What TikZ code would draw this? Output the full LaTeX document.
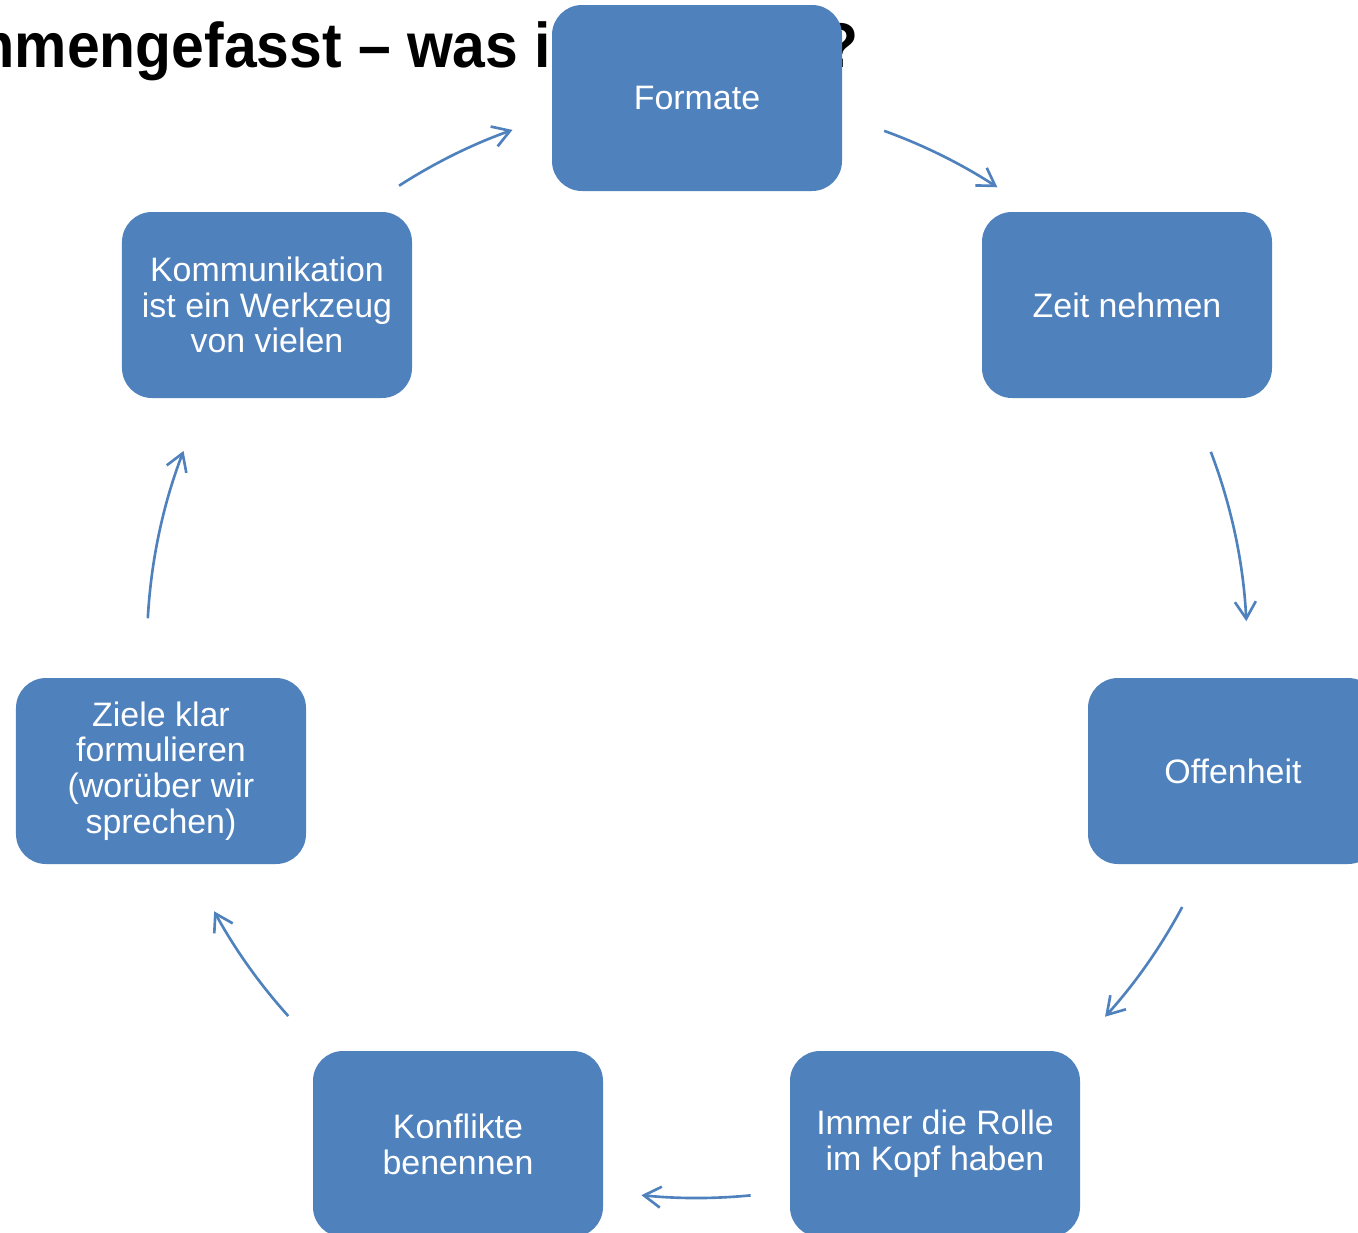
\documentclass[tikz,border=0pt]{standalone}
\usepackage{fontspec}
\setmainfont{Liberation Sans}
\newfontfamily\titelschrift[FakeStretch=0.93]{Liberation Sans}
\usetikzlibrary{calc,arrows.meta}
\definecolor{kastenblau}{HTML}{4F81BD}
\def\zyklusarc[#1](#2)(#3:#4:#5){\draw[#1] ($(#2)+(#3:#5)$) arc (#3:#4:#5);}
\tikzset{
  kasten/.style={fill=kastenblau, rounded corners=6mm, minimum width=58mm, minimum height=37.2mm,
    inner sep=0pt, align=center, text=white, font=\fontsize{19.3}{20.4}\selectfont},
  pfeil/.style={draw=kastenblau, line width=1.5pt, -{Straight Barb[length=3.4mm, width=4.2mm, line width=1.5pt]}}
}

\begin{document}
\begin{tikzpicture}[x=0.2mm, y=0.2mm]
			%%%%% START %%%%%
			
			\useasboundingbox (0, 0) rectangle (1358, -1232);
			\clip (0, 0) rectangle (1358, -1232);
			
			\node[anchor=base west, font=\titelschrift\fontsize{36}{42}\selectfont\bfseries] (titel) at (-181, -67) {Zusammengefasst – was ist wichtig?};
			
			\coordinate (mitte) at (697, -648);
			
			\node[kasten] (formate) at (697, -98) {Formate};
			\node[kasten] (zeit) at (1127, -305) {Zeit nehmen};
			\node[kasten] (offenheit) at (1233, -771) {Offenheit};
			\node[kasten] (rolle) at (935, -1144) {Immer die Rolle\\im Kopf haben};
			\node[kasten] (konflikte) at (458, -1144) {Konflikte\\benennen};
			\node[kasten] (ziele) at (161, -771) {Ziele klar\\formulieren\\(worüber wir\\sprechen)};
			\node[kasten] (kommunikation) at (267, -305) {Kommunikation\\ist ein Werkzeug\\von vielen};
			
			\zyklusarc[pfeil](mitte)(122.8:109.6:550);
			\zyklusarc[pfeil](mitte)(70.1:56.9:550);
			\zyklusarc[pfeil](mitte)(20.9:2.8:550);
			\zyklusarc[pfeil](mitte)(-28.1:-42.1:550);
			\zyklusarc[pfeil](mitte)(-84.4:-95.8:550);
			\zyklusarc[pfeil](mitte)(-138.0:-151.4:550);
			\zyklusarc[pfeil](mitte)(176.9:159.0:550);
			
			%%%%% END %%%%%
\end{tikzpicture}
\end{document}
